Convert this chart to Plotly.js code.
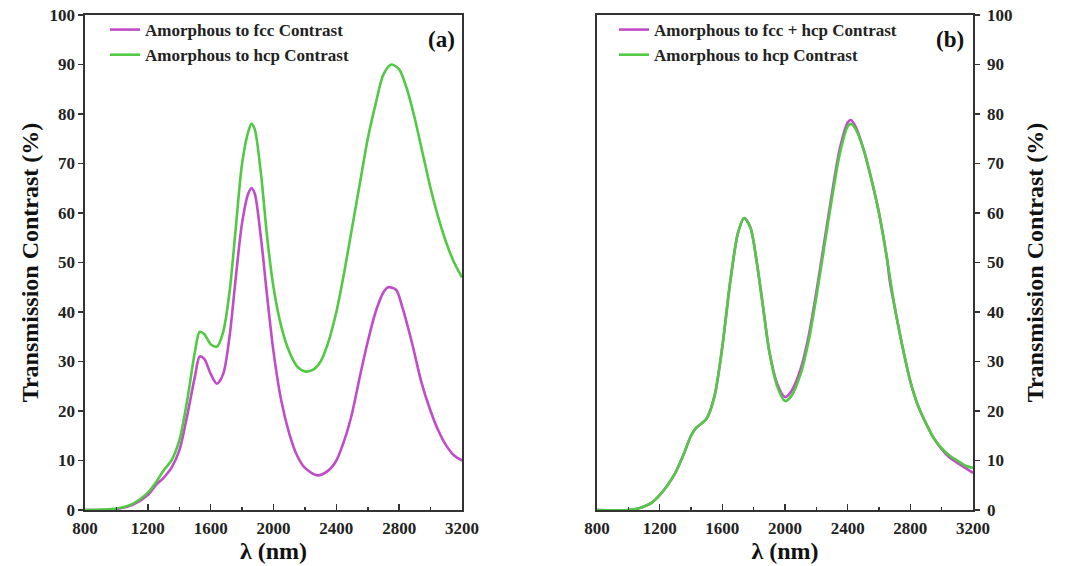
<!DOCTYPE html>
<html>
<head>
<meta charset="utf-8">
<script src="https://cdn.plot.ly/plotly-3.0.1.min.js"></script>
<style>html,body{margin:0;padding:0;background:#fff;}#chart{width:1068px;height:566px;}</style>
</head>
<body>
<div id="chart"></div>
<script>
// Panel (a)
const wlA = [800,1000,1100,1200,1250,1300,1350,1400,1450,1500,1530,1560,1600,1640,1680,1720,1760,1800,1840,1860,1880,1920,1960,2000,2050,2100,2150,2200,2280,2350,2400,2450,2500,2550,2600,2650,2700,2730,2780,2820,2880,2940,3000,3050,3100,3150,3200];
const fccA = [0,0.2,1,3,5,6.5,8.5,12,19,27,31,30.5,27.5,25.5,27.5,35,47,58,64,65,64,55,43,32,22,15.5,11,8.5,7,8,10,14,19.5,27,34,40,44,45,44.5,41,34,26,20,16,13,11,10];
const wlA2 = [800,1000,1100,1200,1250,1300,1350,1400,1450,1500,1530,1560,1600,1640,1680,1720,1760,1800,1840,1860,1880,1920,1960,2000,2050,2100,2150,2200,2250,2300,2350,2400,2450,2500,2550,2600,2650,2700,2750,2800,2850,2900,2950,3000,3050,3100,3150,3200];
const hcpA = [0,0.3,1.2,3.5,5.5,8,10,14,22,32,36,35.5,33.5,33,36,44,57,70,76.5,78,77,68,55,45,37,32,29,28,28.3,30,34,40,48,57,66,75,82,88,90,89,85,79,72,65,59,54,50,47];

// Panel (b)
const wlB = [800,1000,1050,1100,1150,1200,1250,1300,1350,1400,1430,1460,1500,1550,1600,1650,1700,1740,1780,1820,1860,1900,1950,2000,2040,2100,2150,2200,2250,2300,2350,2400,2420,2450,2500,2550,2600,2650,2670,2700,2750,2800,2850,2900,2950,3000,3050,3100,3150,3200];
const mixB = [0,0,0.2,0.7,1.5,3,5,7.5,11,15,16.5,17.3,18.5,23,33,46,56,59,57,50,41,32,25.5,22.8,24,28.5,35,44,54,64,73,78.3,78.8,77.5,73,67,60,51,46,41,33,26,21,17.5,14.5,12.3,10.6,9.5,8.5,7.5];
const hcpB = [0,0,0.2,0.7,1.5,3,5,7.5,11,15,16.5,17.3,18.5,23,33,46,56,59,57,50,41,32,25,22,23,27.5,34,43,53,63,72,77.5,78,77,73,67,60,51,47,41,33,26,21,17.5,14.5,12.5,11,10,9,8.5];

const legendA = ['Amorphous to fcc Contrast','Amorphous to hcp Contrast'];
const legendB = ['Amorphous to fcc + hcp Contrast','Amorphous to hcp Contrast'];

const MAG = '#c04cc8', GRN = '#52c944';
const FONT = 'Liberation Serif, serif';

const traces = [
  {x: wlA, y: fccA, name: legendA[0], xaxis:'x', yaxis:'y', mode:'lines', line:{color:MAG, width:2.6, shape:'spline', smoothing:0.8}, legend:'legend'},
  {x: wlA2, y: hcpA, name: legendA[1], xaxis:'x', yaxis:'y', mode:'lines', line:{color:GRN, width:2.6, shape:'spline', smoothing:0.8}, legend:'legend'},
  {x: wlB, y: mixB, name: legendB[0], xaxis:'x2', yaxis:'y2', mode:'lines', line:{color:MAG, width:2.6, shape:'spline', smoothing:0.8}, legend:'legend2'},
  {x: wlB, y: hcpB, name: legendB[1], xaxis:'x2', yaxis:'y2', mode:'lines', line:{color:GRN, width:2.6, shape:'spline', smoothing:0.8}, legend:'legend2'}
];

const tickFont = {family: FONT, size: 17, color: '#222', weight: 'bold'};
const titleFont = {family: FONT, size: 24, color: '#111', weight: 'bold'};

function xax(domain, anchor) {
  return {
    domain: domain, anchor: anchor, range: [800, 3200], dtick: 400, tick0: 800,
    ticks: 'inside', ticklen: 6, tickwidth: 1.5, tickcolor: '#333',
    minor: {dtick: 200, ticks: 'inside', ticklen: 3, tickwidth: 1.5, tickcolor: '#333'},
    showline: true, linecolor: '#333', linewidth: 1.6, mirror: true,
    showgrid: false, zeroline: false, automargin: false,
    tickfont: tickFont, ticklabelstandoff: 2,
    title: {text: 'λ (nm)', font: titleFont, standoff: 0}
  };
}
function yax(domain, anchor, side, standoff, labelStandoff) {
  return {
    domain: domain, anchor: anchor, side: side, range: [0, 100], dtick: 10,
    ticks: 'outside', ticklen: 5, tickwidth: 1.5, tickcolor: '#333',
    showline: true, linecolor: '#333', linewidth: 1.6, mirror: true,
    showgrid: false, zeroline: false, automargin: false,
    tickfont: tickFont, ticklabelstandoff: labelStandoff,
    title: {text: 'Transmission Contrast (%)', font: titleFont, standoff: standoff}
  };
}

const legFont = {family: FONT, size: 17, color: '#222', weight: 'bold'};

const layout = {
  width: 1068, height: 566,
  margin: {l: 0, r: 0, t: 15, b: 56},
  paper_bgcolor: '#fff', plot_bgcolor: '#fff',
  showlegend: true,
  xaxis: xax([85/1068, 462/1068], 'y'),
  yaxis: yax([0, 1], 'x', 'left', 4, 0),
  xaxis2: xax([597/1068, 973/1068], 'y2'),
  yaxis2: yax([0, 1], 'x2', 'right', 14, 4),
  legend: {x: 105/1068, y: 1.006, xanchor: 'left', yanchor: 'top', bgcolor: 'rgba(0,0,0,0)',
    font: legFont, tracegroupgap: 0},
  legend2: {x: 614/1068, y: 1.006, xanchor: 'left', yanchor: 'top', bgcolor: 'rgba(0,0,0,0)',
    font: legFont, tracegroupgap: 0},
  annotations: [
    {text: '(a)', xref: 'paper', yref: 'paper', x: 457/1068, y: 0.98, xanchor: 'right', yanchor: 'top', showarrow: false,
     font: {family: FONT, size: 23, color: '#111', weight: 'bold'}},
    {text: '(b)', xref: 'paper', yref: 'paper', x: 966/1068, y: 0.98, xanchor: 'right', yanchor: 'top', showarrow: false,
     font: {family: FONT, size: 23, color: '#111', weight: 'bold'}}
  ]
};

Plotly.newPlot('chart', traces, layout, {displayModeBar: false, staticPlot: true});
</script>
</body>
</html>
